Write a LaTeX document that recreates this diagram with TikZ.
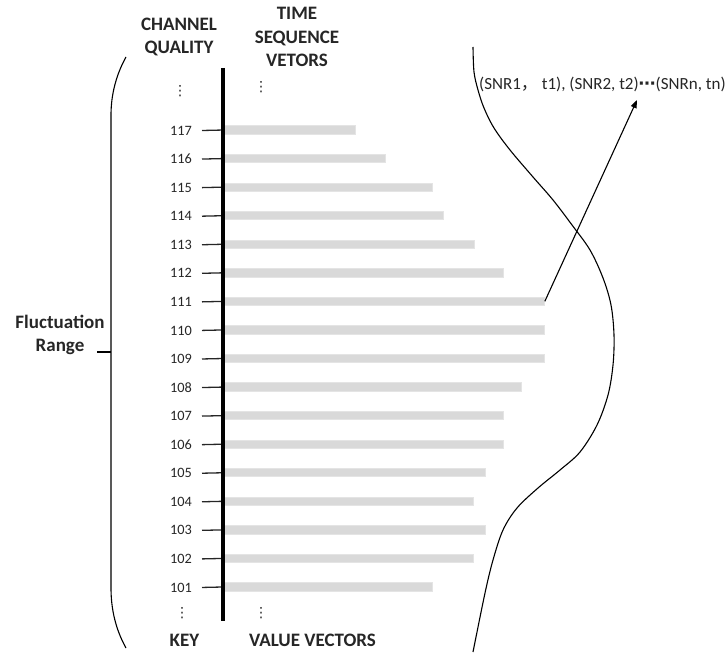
\documentclass[tikz,border=0pt]{standalone}
\usepackage{fontspec}
\setmainfont{Carlito}
\newfontfamily\cjk{Noto Sans CJK SC}
\newfontfamily\symfont{DejaVu Sans}
\usetikzlibrary{arrows.meta}
\definecolor{barfill}{HTML}{D9D9D9}
\definecolor{barline}{HTML}{E4E4E4}
\definecolor{txt}{HTML}{262626}
\begin{document}
\begin{tikzpicture}[x=1pt,y=-1pt,
  hdr/.style={font=\bfseries\fontsize{19}{23.5}\selectfont, text=txt, align=center, inner sep=0pt},
  num/.style={font=\fontsize{14.3}{17}\selectfont, text=txt, anchor=east, inner sep=0pt},
  dots/.style={font=\symfont\fontsize{14}{14}\selectfont, text=txt, inner sep=0pt},
  bar/.style={fill=barfill, draw=barline, line width=0.8pt, minimum height=8.3pt, inner sep=0pt, anchor=west},
  tickline/.style={draw=txt, line width=1.3pt},
  axisline/.style={line width=3.8pt, black},
  curve/.style={line width=1.1pt, black},
  arrowline/.style={line width=1.1pt, black, -{Triangle[length=8pt,width=6pt]}}
]
\useasboundingbox (0,0) rectangle (727,655);

% headers
\node[hdr] (chq) at (179,37) {CHANNEL\\QUALITY};
\node[hdr] (tsv) at (297,37) {TIME\\SEQUENCE\\VETORS};
\node[hdr] (key) at (184.5,640) {KEY};
\node[hdr] (val) at (312.5,640) {VALUE VECTORS};
\node[hdr] (fr) at (60,335) {Fluctuation\\Range};

% bars, keys and ticks
\foreach \k/\e [count=\i from 0] in {117/355,116/385,115/432,114/443,113/474,112/503,111/544,110/544,109/544,108/521,107/503,106/503,105/485,104/473,103/485,102/473,101/432} {
  \pgfmathsetmacro\yy{130+\i*28.56}
  \pgfmathsetmacro\ww{\e-224}
  \node[bar, minimum width=\ww pt] (b\k) at (224,\yy) {};
  \node[num] (k\k) at (192,\yy+0.5) {\k};
  \draw[tickline] ([xshift=10pt]k\k.east) -- (b\k.west);
}

% axis
\coordinate (axtop) at (223,68);
\coordinate (axbot) at (223,621);
\draw[axisline] (axtop) -- (axbot);

% vertical dots
\node[dots] (d1) at (180,91) {⋮};
\node[dots] (d2) at (261,87) {⋮};
\node[dots] (d3) at (182,613) {⋮};
\node[dots] (d4) at (261,613) {⋮};

% left bracket
\coordinate (lt) at (126,57);
\coordinate (lb) at (126,648);
\coordinate (rtick) at (111,352);
\coordinate (rtickend) at (97,352);
\draw[curve] (lt) .. controls (116,75) and (111,95) .. (111,115) -- (111,588) .. controls (111,610) and (116,630) .. (lb);
\draw[curve] (rtickend) -- (rtick);

% right distribution curve
\draw[curve] plot[smooth, tension=0.55] coordinates {(473,47) (474,72) (478,90) (484,108) (494,128) (510,150) (533,177) (553,200) (572,225) (590,250) (603,278) (611,305) (614,335) (613,365) (608,395) (597,425) (580,452) (560,470) (538,488) (517,508) (503,530) (493,560) (485,593) (473,652)};

% sequence text and arrow
\node[anchor=base west, font=\fontsize{17}{20}\selectfont, text=txt, inner sep=0pt] (snr) at (479,90) {(SNR1{\cjk ，} t1), (SNR2, t2){\symfont\bfseries ⋯}(SNRn, tn)};
\coordinate (snrtip) at (637,100);
\draw[arrowline] (b111.east) -- (snrtip);
\end{tikzpicture}
\end{document}
